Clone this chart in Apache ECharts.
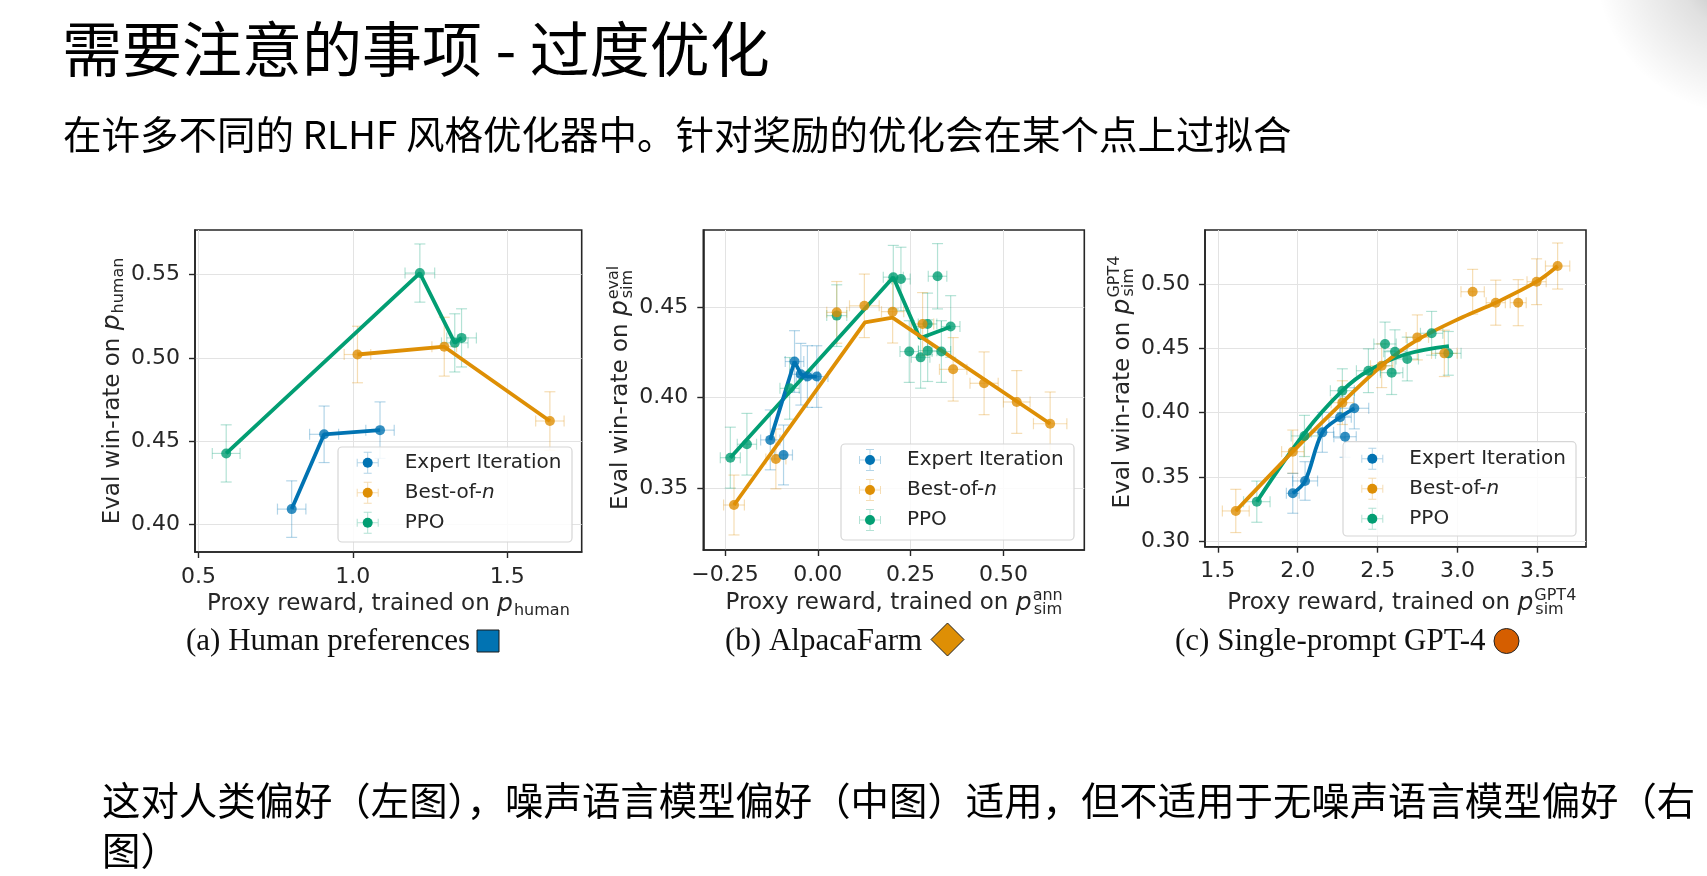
<!DOCTYPE html>
<html>
<head>
<meta charset="utf-8">
<script src="https://cdn.jsdelivr.net/npm/echarts@6/dist/echarts.min.js"></script>
<style>
  html, body { margin: 0; padding: 0; background: #fff; }
  #main { width: 1707px; height: 876px; }
</style>
</head>
<body>
<div id="main"></div>
<script>
    // method names (legend order)
    var methodNames = ['Expert Iteration', 'Best-of-n', 'PPO'];

    // (a) human preferences : [x, y, xerr, yerr]
    var humanEI  = [[0.802,0.409,0.046,0.017],[0.907,0.454,0.047,0.017],[1.088,0.4565,0.046,0.017]];
    var humanBoN = [[1.015,0.502,0.043,0.017],[1.296,0.5067,0.040,0.0177],[1.638,0.462,0.046,0.0176]];
    var humanPPO = [[0.590,0.4425,0.045,0.0172],[1.217,0.551,0.048,0.0175],[1.330,0.509,0.043,0.0175],[1.352,0.512,0.048,0.0175]];

    // (b) AlpacaFarm
    var alpacaEI  = [[-0.128,0.3767,0.026,0.0165],[-0.0923,0.3684,0.024,0.0165],[-0.0627,0.4199,0.025,0.017],
                     [-0.0457,0.4129,0.03,0.017],[-0.028,0.4116,0.03,0.017],[-0.0027,0.4116,0.03,0.017]];
    var alpacaBoN = [[-0.2258,0.3408,0.028,0.0165],[-0.113,0.3662,0.027,0.0165],[0.051,0.447,0.027,0.017],
                     [0.1254,0.4506,0.04,0.0175],[0.2016,0.4474,0.03,0.0173],[0.2823,0.4406,0.03,0.0173],
                     [0.3647,0.4156,0.037,0.0175],[0.448,0.4079,0.038,0.0173],[0.536,0.3976,0.036,0.0173],
                     [0.626,0.3856,0.045,0.0175]];
    var alpacaPPO = [[-0.2357,0.3669,0.027,0.0168],[-0.191,0.3743,0.026,0.017],[-0.076,0.4051,0.026,0.017],
                     [0.051,0.4452,0.027,0.017],[0.2034,0.4664,0.027,0.0175],[0.224,0.4654,0.025,0.0175],
                     [0.2464,0.4254,0.025,0.017],[0.277,0.4222,0.025,0.017],[0.296,0.4259,0.025,0.017],
                     [0.2957,0.4406,0.025,0.017],[0.3226,0.4669,0.025,0.018],[0.333,0.4254,0.025,0.017],
                     [0.358,0.4392,0.025,0.017]];
    var alpacaEILine  = [[-0.128,0.3767],[-0.0627,0.4199],[-0.0457,0.4129],[-0.028,0.4116],[-0.0027,0.4116]];
    var alpacaBoNLine = [[-0.2258,0.3408],[0.127,0.4415],[0.2014,0.4441],[0.626,0.3856]];
    var alpacaPPOLine = [[-0.2357,0.3669],[0.2034,0.4664],[0.275,0.4327],[0.358,0.4391]];

    // (c) single-prompt GPT-4
    var gptEI  = [[1.969,0.3373,0.04,0.0155],[2.046,0.3469,0.078,0.015],[2.154,0.3847,0.07,0.0155],
                  [2.265,0.3964,0.07,0.016],[2.296,0.3813,0.07,0.016],[2.354,0.4034,0.09,0.016]];
    var gptBoN = [[1.6125,0.3236,0.084,0.0168],[1.969,0.3697,0.07,0.0168],[2.279,0.4078,0.07,0.017],
                  [2.525,0.4365,0.07,0.017],[2.748,0.4585,0.07,0.0175],[2.917,0.4461,0.08,0.018],
                  [3.094,0.494,0.073,0.0174],[3.2385,0.4855,0.06,0.0175],[3.379,0.4855,0.05,0.0179],
                  [3.494,0.5018,0.06,0.0178],[3.6255,0.514,0.076,0.0179]];
    var gptPPO = [[1.744,0.3308,0.083,0.016],[2.042,0.3819,0.083,0.016],[2.279,0.4171,0.075,0.017],
                  [2.442,0.4326,0.075,0.017],[2.546,0.4534,0.07,0.017],[2.5875,0.4311,0.07,0.017],
                  [2.608,0.4474,0.07,0.017],[2.685,0.4417,0.07,0.017],[2.8375,0.4617,0.07,0.017],
                  [2.9417,0.4461,0.08,0.017]];
    var gptEILine  = [[1.969,0.3373],[2.046,0.3469],[2.154,0.3847],[2.265,0.3964],[2.354,0.4034]];
    var gptBoNLine = [[1.6125,0.3236],[1.969,0.3697],[2.279,0.4078],[2.525,0.4365],[2.748,0.4565],
                      [3.033,0.4744],[3.2385,0.4855],[3.494,0.5018],[3.6255,0.514]];
    var gptPPOLine = [[1.744,0.3308],[2.042,0.384],[2.279,0.4171],[2.442,0.4326],[2.681,0.4456],[2.9456,0.4518]];

    // tick labels
    var humanXTicks  = [0.5, 1.0, 1.5];
    var humanYTicks  = [0.40, 0.45, 0.50, 0.55];
    var alpacaXTicks = [-0.25, 0, 0.25, 0.5];
    var alpacaYTicks = [0.35, 0.40, 0.45];
    var gptXTicks    = [1.5, 2.0, 2.5, 3.0, 3.5];
    var gptYTicks    = [0.30, 0.35, 0.40, 0.45, 0.50];

    // axis ranges
    var humanXRange = [0.489, 1.741],   humanYRange = [0.3832, 0.5769];
    var alpacaXRange = [-0.3085, 0.718], alpacaYRange = [0.316, 0.4924];
    var gptXRange = [1.42, 3.803],      gptYRange = [0.2958, 0.542];

    var colors = ['#0173b2', '#de8f05', '#029e73'];
    var lightColors = ['rgba(1,115,178,0.3)', 'rgba(222,143,5,0.3)', 'rgba(2,158,115,0.3)'];
    var ink = '#262626';
    var mplFont = 'DejaVu Sans';

    var grids = [
        {left: 195, top: 230, width: 386.7, height: 322},
        {left: 703.3, top: 230, width: 381, height: 320},
        {left: 1205, top: 230, width: 381, height: 316.7}
    ];

    var nameRich = {
        m: {fontSize: 23, fontFamily: mplFont, color: ink, align: 'left'},
        p: {fontSize: 25, fontStyle: 'italic', fontFamily: mplFont, color: ink, align: 'left'},
        sub: {fontSize: 16, fontFamily: mplFont, color: ink, align: 'left', padding: [13, 0, 0, 1]},
        sup: {fontSize: 16, fontFamily: mplFont, color: ink, align: 'left', width: 0, padding: [0, 0, 15, 1]}
    };

    function errorBarRenderer(color) {
        return function (params, api) {
            var x = api.value(0), y = api.value(1), ex = api.value(2), ey = api.value(3);
            var l = api.coord([x - ex, y]), r = api.coord([x + ex, y]);
            var t = api.coord([x, y + ey]), b = api.coord([x, y - ey]);
            var cap = 5.5;
            function seg(x1, y1, x2, y2) {
                return {type: 'line', shape: {x1: x1, y1: y1, x2: x2, y2: y2},
                        style: {stroke: color, lineWidth: 1.2}};
            }
            return {type: 'group', children: [
                seg(l[0], l[1], r[0], r[1]),
                seg(l[0], l[1] - cap, l[0], l[1] + cap),
                seg(r[0], r[1] - cap, r[0], r[1] + cap),
                seg(t[0], t[1], b[0], b[1]),
                seg(t[0] - cap, t[1], t[0] + cap, t[1]),
                seg(b[0] - cap, b[1], b[0] + cap, b[1])
            ]};
        };
    }

    function axisCfg(idx, range, ticks, fmt, name, gap, margin) {
        return {
            type: 'value', gridIndex: idx, min: range[0], max: range[1],
            name: name, nameLocation: 'middle', nameGap: gap,
            nameTextStyle: {rich: nameRich},
            axisLine: {show: true, onZero: false, lineStyle: {color: ink, width: 1.6}},
            axisTick: {show: true, length: 6, customValues: ticks, lineStyle: {color: ink, width: 1.4}},
            axisLabel: {customValues: ticks, formatter: fmt, fontSize: 22, fontFamily: mplFont,
                        color: ink, margin: margin},
            splitLine: {show: true, lineStyle: {color: '#e3e3e3', width: 1}}
        };
    }
    function fmt1(v) { return v.toFixed(1); }
    function fmt2(v) { return (v < -1e-9 ? '\u2212' : '') + Math.abs(v).toFixed(2); }

    var series = [];
    function addPanel(idx, pts, lines, smooth) {
        // draw PPO first, Expert Iteration last (on top)
        for (var m = 2; m >= 0; m--) {
            var xy = pts[m].map(function (p) { return [p[0], p[1]]; });
            series.push({
                name: methodNames[m], type: 'custom', xAxisIndex: idx, yAxisIndex: idx,
                renderItem: errorBarRenderer(lightColors[m]), encode: {x: 0, y: 1},
                data: pts[m], silent: true, z: 2, itemStyle: {color: colors[m]}
            });
            series.push({
                name: methodNames[m], type: 'line', xAxisIndex: idx, yAxisIndex: idx,
                data: lines ? lines[m] : xy, showSymbol: false, smooth: smooth,
                lineStyle: {width: 3.8, color: colors[m]}, itemStyle: {color: colors[m]},
                z: 5 - m, silent: true
            });
            series.push({
                name: methodNames[m], type: 'scatter', xAxisIndex: idx, yAxisIndex: idx,
                data: xy, symbolSize: 10, itemStyle: {color: colors[m]}, z: 9 - m
            });
        }
    }
    addPanel(0, [humanEI, humanBoN, humanPPO], null, false);
    addPanel(1, [alpacaEI, alpacaBoN, alpacaPPO], [alpacaEILine, alpacaBoNLine, alpacaPPOLine], false);
    addPanel(2, [gptEI, gptBoN, gptPPO], [gptEILine, gptBoNLine, gptPPOLine], 0.35);

    // legend: crosshair icon (light) + dot with text, one pair per panel
    var crossPath = 'path://M0 10.5H22V11.5H0Z M10.5 0H11.5V22H10.5Z M0 7H1V15H0Z M21 7H22V15H21Z M7 0H15V1H7Z M7 21H15V22H7Z';
    var legendSpots = [
        {cx: 367.7, cy: 462.7, box: [338, 447, 572, 542]},
        {cx: 870, cy: 460, box: [841, 444, 1074, 540]},
        {cx: 1372.3, cy: 458.7, box: [1343, 441.7, 1576, 536]}
    ];
    var legends = [];
    var legendBoxes = [];
    legendSpots.forEach(function (s) {
        legends.push({
            left: s.cx - 11, top: s.cy - 11, orient: 'vertical', padding: 0,
            itemWidth: 22, itemHeight: 22, itemGap: 8, selectedMode: false, z: 4,
            formatter: function () { return ''; },
            itemStyle: {borderWidth: 0},
            data: methodNames.map(function (n, i) {
                return {name: n, icon: crossPath, itemStyle: {color: lightColors[i], borderWidth: 0}};
            })
        });
        legends.push({
            left: s.cx - 5, top: s.cy - 11, orient: 'vertical', padding: 0,
            itemWidth: 10, itemHeight: 10, itemGap: 8, z: 5,
            itemStyle: {borderWidth: 0},
            formatter: function (n) { return n === 'Best-of-n' ? 'Best-of-{i|n}' : n; },
            textStyle: {fontSize: 20, fontFamily: mplFont, color: ink, lineHeight: 22, padding: [0, 0, 0, 27],
                        rich: {i: {fontSize: 20, fontFamily: mplFont, fontStyle: 'italic', color: ink, lineHeight: 22}}},
            data: methodNames.map(function (n, i) {
                return {name: n, icon: 'circle', itemStyle: {color: colors[i], borderWidth: 0}};
            })
        });
        legendBoxes.push({
            type: 'rect', z: 3,
            shape: {x: s.box[0], y: s.box[1], width: s.box[2] - s.box[0], height: s.box[3] - s.box[1], r: 4},
            style: {fill: 'rgba(255,255,255,0.85)', stroke: '#d6d6d6', lineWidth: 1.2}
        });
    });

    var cjk = '"Noto Sans CJK SC"';
    var serif = '"Liberation Serif"';
    var graphics = [
        {type: 'circle', z: 0, silent: true, shape: {cx: 1745, cy: -35, r: 150},
         style: {fill: new echarts.graphic.RadialGradient(0.5, 0.5, 0.5, [
             {offset: 0, color: 'rgba(0,0,0,0.32)'}, {offset: 0.45, color: 'rgba(0,0,0,0.12)'},
             {offset: 1, color: 'rgba(0,0,0,0)'}])}},
        {type: 'text', x: 62, y: 49, style: {text: '需要注意的事项 - 过度优化', fontSize: 60, fontFamily: cjk,
            fill: '#000', verticalAlign: 'middle'}},
        {type: 'text', x: 63, y: 134, style: {text: '在许多不同的 RLHF 风格优化器中。针对奖励的优化会在某个点上过拟合',
            fontSize: 38.5, fontFamily: cjk, fill: '#000', verticalAlign: 'middle'}},
        {type: 'text', x: 102, y: 800, style: {text: '这对人类偏好（左图），噪声语言模型偏好（中图）适用，但不适用于无噪声语言模型偏好（右',
            fontSize: 38.4, fontFamily: cjk, fill: '#000', verticalAlign: 'middle'}},
        {type: 'text', x: 102, y: 850, style: {text: '图）', fontSize: 38.4, fontFamily: cjk, fill: '#000',
            verticalAlign: 'middle'}},
        {type: 'text', x: 186, y: 642, style: {text: '(a) Human preferences', fontSize: 31, fontFamily: serif,
            fill: '#111', verticalAlign: 'middle'}},
        {type: 'rect', shape: {x: 477, y: 630, width: 22, height: 22},
         style: {fill: '#0173b2', stroke: '#1a1a1a', lineWidth: 1}},
        {type: 'text', x: 725, y: 642, style: {text: '(b) AlpacaFarm', fontSize: 31, fontFamily: serif,
            fill: '#111', verticalAlign: 'middle'}},
        {type: 'polygon', shape: {points: [[947.5, 623], [964, 639.5], [947.5, 656], [931, 639.5]]},
         style: {fill: '#de8f05', stroke: '#222', lineWidth: 1}},
        {type: 'text', x: 1175, y: 642, style: {text: '(c) Single-prompt GPT-4', fontSize: 31, fontFamily: serif,
            fill: '#111', verticalAlign: 'middle'}},
        {type: 'circle', shape: {cx: 1506.5, cy: 641, r: 12.5},
         style: {fill: '#d55e00', stroke: '#222', lineWidth: 1}}
    ].concat(legendBoxes);

    var option = {
        backgroundColor: '#fff',
        animation: false,
        grid: grids.map(function (g) {
            return {left: g.left, top: g.top, width: g.width, height: g.height,
                    show: true, borderColor: ink, borderWidth: 1.6, backgroundColor: 'transparent'};
        }),
        xAxis: [
            axisCfg(0, humanXRange, humanXTicks, fmt1, '{m|Proxy reward, trained on }{p|p}{sub|human}', 38, 14),
            axisCfg(1, alpacaXRange, alpacaXTicks, fmt2, '{m|Proxy reward, trained on }{p|p}{sup|ann}{sub|sim}', 38, 14),
            axisCfg(2, gptXRange, gptXTicks, fmt1, '{m|Proxy reward, trained on }{p|p}{sup|GPT4}{sub|sim}', 41, 14)
        ],
        yAxis: [
            axisCfg(0, humanYRange, humanYTicks, fmt2, '{m|Eval win-rate on }{p|p}{sub|human}', 57, 15),
            axisCfg(1, alpacaYRange, alpacaYTicks, fmt2, '{m|Eval win-rate on }{p|p}{sup|eval}{sub|sim}', 62, 15),
            axisCfg(2, gptYRange, gptYTicks, fmt2, '{m|Eval win-rate on }{p|p}{sup|GPT4}{sub|sim}', 62, 15)
        ],
        legend: legends,
        graphic: {elements: graphics},
        series: series
    };

    var chart = echarts.init(document.getElementById('main'));
    chart.setOption(option);
</script>
</body>
</html>
